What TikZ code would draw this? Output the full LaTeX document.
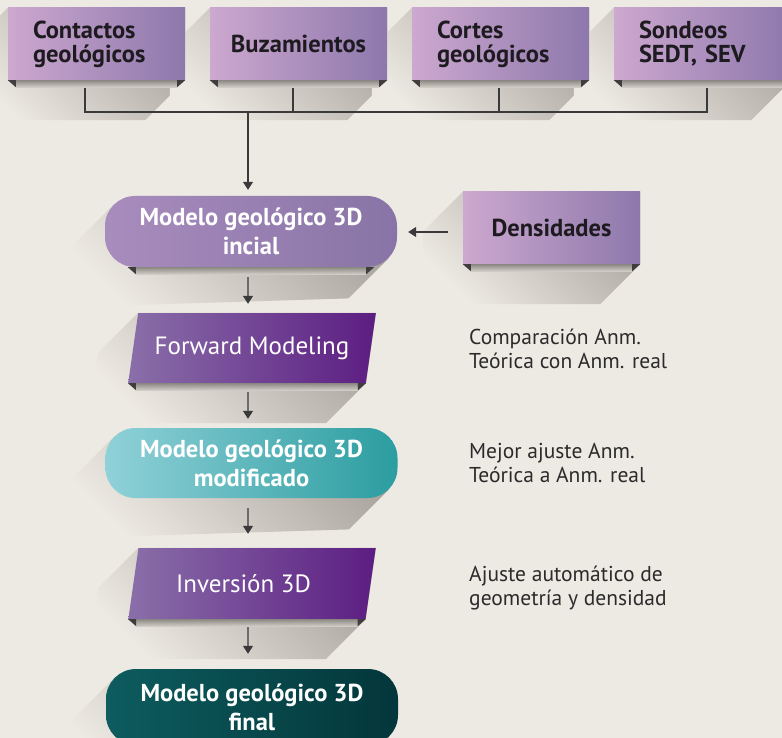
\documentclass[tikz,border=0pt]{standalone}
\usepackage{fontspec}
\setmainfont{PT Sans}
\usetikzlibrary{shapes.geometric,arrows.meta,calc}
\pgfdeclarelayer{back}
\pgfdeclarelayer{shad}
\pgfsetlayers{back,shad,main}
\definecolor{bgC}{HTML}{EDE9E3}
\definecolor{shadowC}{HTML}{A9A49D}
\definecolor{ribC}{HTML}{8C8883}
\definecolor{ribL}{HTML}{D2CDC6}
\definecolor{triC}{HTML}{3F3D3D}
\definecolor{boxL}{HTML}{CDA8CF}
\definecolor{boxR}{HTML}{8D78AC}
\definecolor{iniL}{HTML}{A98CBE}
\definecolor{iniR}{HTML}{8874A6}
\definecolor{fwdL}{HTML}{8A6FA9}
\definecolor{fwdR}{HTML}{5C1D82}
\definecolor{modL}{HTML}{90D1D8}
\definecolor{modR}{HTML}{2B9DA0}
\definecolor{finL}{HTML}{0D5C5F}
\definecolor{finR}{HTML}{03363A}
\definecolor{darkT}{HTML}{1E1B20}
\definecolor{noteT}{HTML}{2B2B2B}
\definecolor{lineC}{HTML}{3A3A3A}
\newcommand\rshadow[1]{\shade[shadowfill] (#1.north west) -- (#1.north east) -- (#1.south east) -- ++(-40,40) -- ($(#1.south west)+(-40,40)$) -- ($(#1.north west)+(-40,40)$) -- cycle;}
\newcommand\oshadow[1]{\shade[shadowfill] ($(#1.north west)+(8.8,8.8)$) -- ($(#1.south east)+(-8.8,-8.8)$) -- ++(-40,40) -- ($(#1.south west)+(-40,40)$) -- ($(#1.north west)+(-40,70)$) -- ($(#1.north west)+(-31.2,48.8)$) -- cycle;}
\newcommand\pshadow[1]{\shade[shadowfill] (#1.top left corner) -- (#1.top right corner) -- (#1.bottom right corner) -- ++(-40,40) -- ($(#1.bottom left corner)+(-40,40)$) -- ($(#1.top left corner)+(-40,40)$) -- cycle;}
\newcommand\ribbon[2]{%
  \shade[top color=ribC, bottom color=ribL] ($(#1)+(8,0)$) rectangle ($(#2)+(-8,7)$);
  \fill[triC] (#1) -- ++(8,0) -- ++(0,7) -- cycle;
  \fill[triC] (#2) -- ++(-8,0) -- ++(0,7) -- cycle;}
\begin{document}
\begin{tikzpicture}[x=1pt,y=-1pt,
  shadowfill/.style={top color=shadowC, bottom color=bgC, shading angle=-45},
  ln/.style={draw=lineC, line width=1.3pt},
  arr/.style={ln, -{Triangle[width=10pt,length=8pt]}},
  topbox/.style={rectangle, inner sep=0pt, minimum width=177pt, minimum height=72pt,
    left color=boxL, right color=boxR, text=darkT, font=\bfseries\fontsize{24.5}{24}\selectfont},
  topleft/.style={topbox, align=left, text width=127pt, inner xsep=25pt},
  topcenter/.style={topbox, align=center},
  mbox/.style={rectangle, rounded corners=30pt, minimum width=292pt, minimum height=71pt,
    inner sep=0pt, align=center, text=white, font=\bfseries\fontsize{24.5}{29}\selectfont},
  pbox/.style={trapezium, trapezium left angle=69.6, trapezium right angle=110.4,
    trapezium stretches=true, minimum width=248pt, minimum height=70pt, inner sep=0pt,
    left color=fwdL, right color=fwdR, text=white, font=\fontsize{25}{26}\selectfont},
  note/.style={anchor=base west, align=left, inner sep=0pt, text=noteT,
    font=\fontsize{21.5}{23.5}\selectfont}
]
\begin{pgfonlayer}{back}
\fill[bgC] (0,0) rectangle (782,738);
\end{pgfonlayer}
\useasboundingbox (0,0) rectangle (782,738);

% top row
\node[topleft] (c1) at (96.5,44) {Contactos\\geológicos};
\node[topcenter] (c2) at (298.5,44) {Buzamientos};
\node[topleft] (c3) at (500.5,44) {Cortes\\geológicos};
\node[topleft] (c4) at (702.5,44) {Sondeos\\SEDT, SEV};
\node[topcenter] (dens) at (551.5,228) {Densidades};

% flow
\node[mbox, left color=iniL, right color=iniR] (ini) at (251,231.5) {Modelo geológico 3D\\incial};
\node[pbox] (fwd) at (252,348) {Forward Modeling};
\node[mbox, left color=modL, right color=modR, minimum height=70pt] (mod) at (251.5,463) {Modelo geológico 3D\\modificado};
\node[pbox, minimum height=71pt] (inv) at (252,583.5) {Inversión 3D\hspace*{17pt}};
\node[mbox, left color=finL, right color=finR, minimum height=76pt] (fin) at (252,707) {Modelo geológico 3D\\final};

% notes
\node[note] (t1) at (469,368) {Comparación Anm.\\Teórica con Anm. real};
\node[note] (t2) at (469,482) {Mejor ajuste Anm.\\Teórica a Anm. real};
\node[note] (t3) at (469,605) {Ajuste automático de\\geometría y densidad};

% shadows
\begin{pgfonlayer}{shad}
\rshadow{c1}\rshadow{c2}\rshadow{c3}\rshadow{c4}\rshadow{dens}
\oshadow{ini}\oshadow{mod}\oshadow{fin}
\pshadow{fwd}\pshadow{inv}
\end{pgfonlayer}

% ribbons
\ribbon{c1.south west}{c1.south east}
\ribbon{c2.south west}{c2.south east}
\ribbon{c3.south west}{c3.south east}
\ribbon{c4.south west}{c4.south east}
\ribbon{dens.south west}{dens.south east}
\coordinate (iniBL) at ($(ini.south west)+(23,0)$);
\coordinate (iniBR) at ($(ini.south east)+(-23,0)$);
\ribbon{iniBL}{iniBR}
\ribbon{fwd.bottom left corner}{fwd.bottom right corner}
\ribbon{inv.bottom left corner}{inv.bottom right corner}

% connectors
\coordinate (bus) at (248,112);
\draw[ln] ($(c1.south)+(-11.5,8)$) |- (bus);
\draw[ln] ($(c2.south)+(-5.5,8)$) |- (bus);
\draw[ln] ($(c3.south)+(-1.5,8)$) |- (bus);
\draw[ln] ($(c4.south)+(4.5,8)$) |- (bus);
\draw[arr] (bus) -- ($(ini.north)+(-3,-6)$);
\draw[arr] ($(dens.west)+(-15,4)$) -- ($(ini.east)+(11,0.5)$);
\draw[arr] ($(ini.south)+(-3,10)$) -- ($(fwd.north)+(-4,-9)$);
\draw[arr] ($(fwd.south)+(-4,9)$) -- ($(mod.north)+(-3.5,-9)$);
\draw[arr] ($(mod.south)+(-3.5,10)$) -- ($(inv.north)+(-4,-14)$);
\draw[arr] ($(inv.south)+(-4,8)$) -- ($(fin.north)+(-4,-15)$);
\end{tikzpicture}
\end{document}
